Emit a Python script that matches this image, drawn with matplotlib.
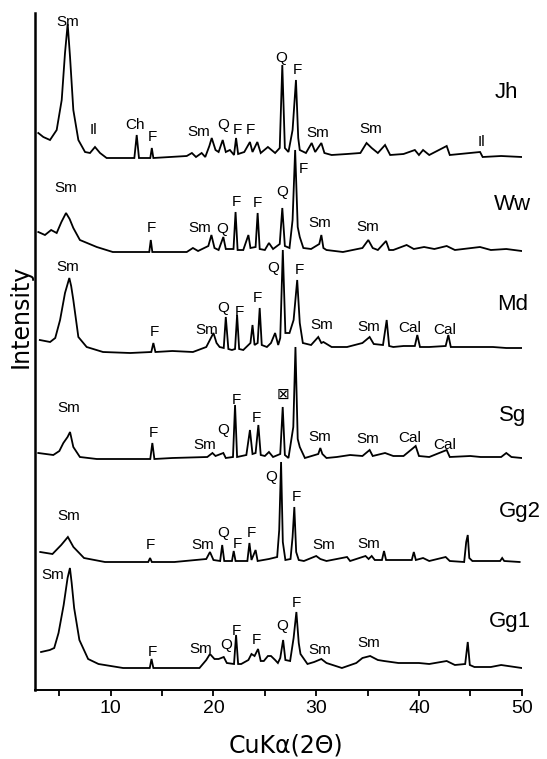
import matplotlib
matplotlib.use("Agg")
import matplotlib.pyplot as plt
import numpy as np

plt.rcParams['font.family'] = ['Liberation Sans', 'DejaVu Sans']

# ---------------- data (2-theta, intensity above each sample's baseline) ----------------
samples = ["Jh", "Ww", "Md", "Sg", "Gg2", "Gg1"]
offsets = [532, 438, 337, 231, 128, 22]

jh_2theta = [2.95,3.44,4.09,4.74,5.23,5.55,5.81,6.04,6.36,6.85,7.5,7.98,8.47,8.96,9.6,12.3,12.53,12.75,13.85,14.0,14.15,17.4,17.9,18.3,18.85,19.2,19.6,19.83,20.2,20.5,20.9,21.2,21.6,22.0,22.2,22.4,23.0,23.55,23.8,24.27,24.6,25.3,26.0,26.45,26.7,26.95,27.3,27.7,28.03,28.25,28.4,29.0,29.56,29.9,30.5,30.8,31.5,33.0,34.3,34.9,35.4,36.0,36.7,37.2,38.5,39.6,40.0,40.4,41.0,42.7,43.0,45.95,46.2,48.0,50.0]
jh_int = [25,21,18,28,58,105,134,101,48,18,6,5,11,5,0,0,23,0,0,10,0,2,5,1,5,1,12,20,8,6,18,6,8,3,20,4,6,16,6,16,5,11,5,10,93,10,6,28,78,20,8,5,15,6,15,5,3,4,5,15,10,5,13,3,4,8,3,8,3,12,3,6,1,2,1]

ww_2theta = [2.95,3.6,4.2,4.74,5.2,5.65,6.0,6.36,7.0,8.64,10.2,11.9,13.75,13.9,14.05,17.4,18.0,18.5,19.5,19.8,20.1,20.5,20.96,21.2,21.95,22.15,22.35,22.9,23.4,23.6,24.1,24.3,24.5,25.0,25.4,25.8,26.45,26.7,26.95,27.4,27.7,27.95,28.2,28.4,28.75,29.5,30.3,30.5,30.7,31.0,32.6,34.5,35.07,35.5,36.0,36.8,37.1,37.5,38.8,39.5,40.5,41.5,42.7,43.5,45.94,47.0,48.5,50.0]
ww_int = [20,17,22,19,30,39,33,24,12,5,0,0,0,12,0,0,4,1,6,17,4,2,15,3,3,40,2,2,17,4,5,39,3,2,9,3,8,44,6,4,32,102,25,15,4,3,8,17,4,2,0,4,12,4,2,11,2,2,7,3,5,3,6,2,5,2,3,1]

md_2theta = [3.1,3.6,4.1,4.6,5.07,5.55,5.97,6.15,6.36,6.85,7.66,9.25,11.9,13.95,14.15,14.35,16.0,18.0,19.3,20.0,20.3,20.6,21.0,21.2,21.45,21.8,22.1,22.3,22.5,22.9,23.6,23.8,24.0,24.3,24.5,24.7,25.2,25.6,26.0,26.3,26.5,26.75,27.0,27.4,27.8,28.15,28.4,28.7,29.5,30.2,30.5,30.7,31.5,33.0,34.5,35.2,35.6,36.5,36.86,37.1,37.5,38.5,39.6,39.84,40.1,41.0,42.6,42.86,43.1,45.0,47.2,48.5,50.0]
md_int = [13,12,11,15,33,60,75,67,53,16,6,1,0,1,10,1,2,1,6,20,10,6,5,36,4,3,4,38,4,3,10,28,8,10,45,8,6,10,20,8,15,103,20,20,33,73,30,10,8,16,10,11,6,6,10,16,9,8,33,7,6,7,7,18,6,6,7,18,6,6,6,5,5]

sg_2theta = [2.95,4.41,5.0,5.39,5.8,6.04,6.36,7.0,8.64,13.85,14.05,14.25,16.0,19.4,19.9,20.2,20.96,21.2,21.9,22.1,22.3,23.2,23.55,23.8,24.1,24.37,24.6,25.0,25.4,25.8,26.5,26.74,26.95,27.3,27.77,27.98,28.2,28.4,28.9,30.2,30.4,30.6,31.0,32.0,33.3,34.5,35.2,35.5,36.7,37.5,38.5,39.68,40.0,41.0,42.7,43.0,45.0,46.0,48.0,48.5,49.0,50.0]
sg_int = [6,4,8,16,22,27,12,2,0,0,16,0,1,2,6,3,6,1,2,54,2,4,29,5,6,34,4,3,7,2,5,52,4,1,32,112,20,12,1,5,11,5,1,2,4,3,9,3,6,3,3,13,3,2,9,2,3,2,2,6,2,1]

gg2_2theta = [3.14,4.33,5.18,5.83,6.37,7.4,9.44,13.65,13.83,14.0,16.2,19.3,19.66,20.0,20.65,20.85,21.05,21.8,21.97,22.15,23.3,23.5,23.7,24.1,24.3,25.4,26.2,26.4,26.58,26.75,27.0,27.5,27.7,27.87,28.05,28.3,28.8,30.0,30.4,31.0,33.0,33.3,34.8,35.1,35.4,35.7,36.4,36.6,36.8,38.0,39.3,39.5,39.7,40.4,41.0,42.6,43.0,44.4,44.6,44.75,44.9,45.2,47.9,48.1,48.3,49.8]
gg2_int = [10,8,17,25,15,4,0,0,4,0,0,3,10,2,1,17,1,1,11,1,1,19,2,12,1,3,5,32,100,20,2,3,25,55,10,2,1,6,3,1,5,1,6,3,6,2,2,11,2,2,2,10,2,4,1,5,1,0,20,27,4,1,1,4,1,0]

gg1_2theta = [3.22,4.07,4.5,4.92,5.42,5.8,6.03,6.2,6.44,6.95,7.8,8.81,11.2,13.8,13.97,14.15,16.27,18.64,19.3,19.66,20.1,20.5,21.0,21.3,22.0,22.2,22.4,22.7,23.4,23.7,24.0,24.34,24.6,24.9,25.3,25.6,26.0,26.27,26.5,26.78,27.0,27.46,27.8,28.07,28.3,28.47,29.15,29.8,30.5,31.0,32.5,33.9,34.5,35.25,36.0,36.6,38.0,40.0,41.0,42.7,43.5,44.5,44.75,44.95,45.4,47.0,48.0,50.0]
gg1_int = [16,18,20,35,63,90,100,85,60,28,9,4,0,0,9,0,0,0,8,14,9,9,11,5,4,33,4,4,8,14,12,19,7,7,12,12,8,5,10,28,8,7,30,56,25,14,4,6,9,5,0,5,10,12,8,7,5,5,4,7,3,4,26,3,1,1,3,0]

# peak annotations: (text, 2theta, height on stacked scale)
jh_labels = [("Sm",5.85,668),("Il",8.28,560),("Ch",12.36,565),("F",14.02,553),("Sm",18.6,558),
             ("Q",20.93,565),("F",22.3,560),("F",23.56,560),("Q",26.57,632),("F",28.13,620),
             ("Sm",30.17,557),("Sm",35.33,561),("Il",46.04,548)]
ww_labels = [("Sm",5.65,502),("F",13.92,462),("Sm",18.69,462),("Q",20.83,461),("F",22.2,488),
             ("F",24.24,487),("Q",26.67,498),("F",28.71,521),("Sm",30.36,467),("Sm",35.04,463)]
md_labels = [("Sm",5.84,423),("F",14.21,358),("Sm",19.37,360),("Q",20.93,382),("F",22.49,378),
             ("F",24.24,392),("Q",25.8,422),("F",28.33,420),("Sm",30.57,365),("Sm",35.14,363),
             ("Cal",39.13,362),("Cal",42.53,360)]
sg_labels = [("Sm",5.94,282),("F",14.12,257),("Sm",19.18,245),("Q",20.93,260),("F",22.2,290),
             ("F",24.14,272),("\u22a0",26.77,295),("Sm",30.36,253),("Sm",35.04,251),
             ("Cal",39.13,252),("Cal",42.53,245)]
gg2_labels = [("Sm",5.9,174),("F",13.9,145),("Sm",19.0,145),("Q",20.95,157),("F",22.3,146),
              ("F",23.66,157),("Q",25.65,213),("F",28.1,193),("Sm",30.7,145),("Sm",35.1,146)]
gg1_labels = [("Sm",4.4,115),("F",14.1,38),("Sm",18.8,41),("Q",21.2,45),("F",22.2,59),
              ("F",24.2,50),("Q",26.7,64),("F",28.1,87),("Sm",30.3,40),("Sm",35.1,47)]

name_2theta = [48.5, 49.15, 49.15, 49.15, 49.8, 48.85]
name_height = [597, 485, 385, 275, 178, 68]

x_major = [10, 20, 30, 40, 50]
x_minor = [5, 15, 25, 35, 45]

traces = [(jh_2theta, jh_int), (ww_2theta, ww_int), (md_2theta, md_int),
          (sg_2theta, sg_int), (gg2_2theta, gg2_int), (gg1_2theta, gg1_int)]
labels = [jh_labels, ww_labels, md_labels, sg_labels, gg2_labels, gg1_labels]

# ---------------- figure ----------------
W, H = 547, 759
fig = plt.figure(figsize=(W / 100, H / 100), dpi=100)
ax = fig.add_axes([35 / W, 1 - 690 / H, (522 - 35) / W, (690 - 13) / H])

for (tt, ii), off, labs in zip(traces, offsets, labels):
    ax.plot(tt, np.asarray(ii) + off, color='black', lw=1.3, solid_joinstyle='miter')
    for txt, xt, yt in labs:
        ax.text(xt, yt, txt, ha='center', va='center', fontsize=11, color='black')

for nm, xt, yt in zip(samples, name_2theta, name_height):
    ax.text(xt, yt, nm, ha='center', va='center', fontsize=16, color='black', clip_on=False)

ax.set_xlim(2.63, 50.03)
ax.set_ylim(0, 677)
ax.set_xticks(x_major)
ax.set_xticks(x_minor, minor=True)
ax.set_yticks([])
ax.tick_params(axis='x', which='both', direction='out', length=4, width=1.3, pad=3,
               labelsize=14)
for s in ['top', 'right']:
    ax.spines[s].set_visible(False)
ax.spines['left'].set_linewidth(1.8)
ax.spines['bottom'].set_linewidth(1.4)

fig.text(286 / W, 1 - 746 / H, "CuK\u03b1(2\u0398)", ha='center', va='center',
         fontsize=17, family='DejaVu Sans')
fig.text(21 / W, 1 - 316 / H, "Intensity", ha='center', va='center', rotation=90,
         fontsize=17, family='DejaVu Sans')

fig.savefig("out.png", dpi=100)
